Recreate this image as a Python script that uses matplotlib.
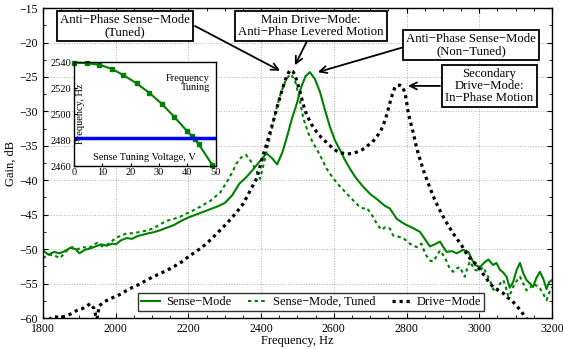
import matplotlib
matplotlib.use("Agg")
import matplotlib.pyplot as plt
from matplotlib.ticker import MultipleLocator

plt.rcParams['font.family'] = ['Liberation Serif', 'DejaVu Serif']
plt.rcParams['mathtext.fontset'] = 'stix'

GREEN = '#008000'

# ---------------- data ----------------
freq_sense = [1800, 1815, 1830, 1845, 1860, 1875, 1890, 1900, 1915, 1930, 1945, 1960, 1975, 1990,
              2000, 2015, 2030, 2045, 2060, 2075, 2090, 2100, 2120, 2140, 2160, 2180, 2200, 2220,
              2240, 2260, 2280, 2300, 2320, 2340, 2360, 2380, 2400, 2415, 2430, 2444, 2458, 2470,
              2485, 2498, 2510, 2522, 2534, 2548, 2562, 2575, 2589, 2603, 2617, 2630, 2644, 2660,
              2680, 2700, 2720, 2740, 2754, 2773, 2790, 2800, 2820, 2837, 2850, 2864, 2878, 2892,
              2900, 2910, 2925, 2938, 2956, 2970, 2980, 2988, 3002, 3015, 3025, 3038, 3047, 3057,
              3066, 3075, 3084, 3093, 3103, 3112, 3121, 3130, 3140, 3148, 3157, 3167, 3176, 3185,
              3192, 3200]
gain_sense = [-50.2, -50.8, -50.4, -50.6, -50.3, -49.8, -50.0, -50.6, -50.1, -49.9, -49.6, -49.3,
              -49.5, -49.2, -49.3, -48.7, -48.4, -48.5, -48.1, -47.9, -47.7, -47.6, -47.3, -46.9,
              -46.5, -45.9, -45.4, -45.0, -44.6, -44.2, -43.8, -43.3, -42.2, -40.5, -39.5, -38.3,
              -37.0, -36.1, -36.8, -37.7, -36.0, -33.9, -31.0, -28.9, -26.5, -24.9, -24.3, -25.3,
              -27.2, -29.7, -32.2, -34.2, -35.6, -37.0, -38.3, -39.6, -40.9, -42.0, -42.8, -43.7,
              -44.1, -45.6, -46.2, -46.5, -47.0, -47.5, -48.5, -49.6, -49.3, -48.9, -49.6, -50.4,
              -50.3, -50.6, -50.1, -50.4, -51.5, -52.3, -52.6, -51.9, -51.5, -52.3, -52.0, -53.0,
              -53.4, -54.0, -55.6, -54.8, -53.0, -52.0, -53.5, -54.5, -55.0, -55.5, -54.2, -53.3,
              -54.3, -55.8, -54.8, -54.5]

freq_tuned = [1800, 1815, 1830, 1847, 1860, 1870, 1880, 1895, 1911, 1925, 1940, 1950, 1962, 1975,
              1990, 2003, 2017, 2030, 2048, 2067, 2085, 2103, 2122, 2140, 2160, 2177, 2200, 2220,
              2240, 2260, 2287, 2305, 2319, 2333, 2345, 2358, 2370, 2385, 2397, 2410, 2425, 2440,
              2455, 2470, 2482, 2493, 2505, 2516, 2530, 2545, 2553, 2565, 2580, 2594, 2610, 2626,
              2640, 2653, 2668, 2681, 2690, 2699, 2710, 2718, 2731, 2742, 2754, 2763, 2778, 2791,
              2800, 2809, 2818, 2828, 2841, 2848, 2855, 2866, 2873, 2883, 2892, 2900, 2906, 2917,
              2928, 2938, 2947, 2955, 2960, 2967, 2974, 2982, 2988, 3000, 3011, 3020, 3029, 3038,
              3048, 3057, 3066, 3073, 3080, 3087, 3093, 3103, 3112, 3121, 3130, 3140, 3148, 3157,
              3167, 3176, 3185, 3192, 3200]
gain_tuned = [-51.3, -50.8, -50.9, -51.3, -50.5, -50.0, -49.7, -50.0, -49.7, -49.9, -49.3, -49.1,
              -49.6, -49.4, -48.8, -48.3, -48.0, -47.7, -47.7, -47.5, -47.3, -47.0, -46.4, -45.9,
              -45.6, -45.3, -44.7, -44.2, -43.6, -43.0, -41.8, -40.3, -39.0, -37.5, -36.7, -36.3,
              -37.1, -38.4, -39.8, -37.0, -33.5, -30.0, -27.2, -25.2, -24.6, -25.5, -28.0, -31.0,
              -33.2, -34.8, -35.5, -36.7, -38.3, -39.4, -40.5, -41.4, -42.2, -42.9, -43.7, -44.1,
              -44.0, -44.6, -45.5, -46.3, -47.2, -46.8, -47.0, -48.0, -48.2, -48.4, -48.8, -49.2,
              -49.5, -49.7, -49.2, -50.2, -51.0, -51.7, -51.8, -51.0, -50.2, -50.8, -51.3, -52.6,
              -53.3, -52.8, -52.6, -53.5, -54.0, -52.8, -51.8, -52.5, -53.0, -53.2, -52.6, -53.6,
              -54.5, -55.8, -56.2, -55.0, -54.5, -55.5, -56.9, -56.3, -55.5, -54.6, -54.0, -55.0,
              -56.0, -55.6, -55.0, -55.3, -55.7, -56.5, -57.4, -56.4, -55.5]

freq_drive = [1800, 1815, 1828, 1845, 1865, 1880, 1893, 1906, 1920, 1930, 1940, 1948, 1955, 1970,
              1985, 1998, 2015, 2030, 2048, 2065, 2085, 2103, 2120, 2140, 2158, 2180, 2200, 2225,
              2250, 2275, 2305, 2330, 2351, 2370, 2388, 2406, 2420, 2433, 2445, 2456, 2466, 2475,
              2480, 2487, 2493, 2500, 2507, 2516, 2525, 2540, 2553, 2567, 2580, 2598, 2612, 2635,
              2650, 2663, 2677, 2690, 2705, 2718, 2730, 2741, 2748, 2754, 2761, 2768, 2775, 2782,
              2789, 2796, 2800, 2805, 2812, 2819, 2825, 2832, 2839, 2846, 2853, 2860, 2869, 2878,
              2890, 2901, 2915, 2928, 2940, 2951, 2960, 2970, 2980, 2993, 3005, 3016, 3027, 3038,
              3050, 3066, 3077, 3089, 3100, 3112, 3126, 3140]
gain_drive = [-60.8, -60.3, -59.8, -59.9, -59.7, -59.3, -58.9, -58.7, -58.3, -57.9, -58.6, -60.2,
              -58.2, -57.6, -57.2, -56.9, -56.5, -56.0, -55.5, -55.1, -54.5, -54.0, -53.6, -53.1,
              -52.6, -51.9, -51.1, -50.2, -49.2, -47.9, -46.3, -44.8, -43.4, -41.5, -39.7, -36.3,
              -33.9, -31.5, -29.2, -27.2, -25.5, -24.4, -24.0, -24.2, -24.7, -25.9, -27.2, -29.0,
              -30.5, -32.0, -33.0, -33.9, -34.5, -35.4, -35.9, -36.2, -36.1, -35.9, -35.6, -35.1,
              -34.5, -33.7, -32.7, -31.3, -30.0, -28.8, -27.5, -26.5, -26.2, -26.2, -26.4, -27.4,
              -28.6, -30.3, -31.8, -33.2, -34.7, -36.1, -37.3, -38.5, -39.5, -40.5, -41.7, -42.9,
              -44.2, -45.3, -46.6, -47.7, -48.6, -49.4, -50.2, -51.1, -51.6, -52.3, -53.2, -54.0,
              -54.8, -55.5, -55.9, -56.4, -57.0, -57.4, -58.1, -58.8, -59.8, -60.8]

inset_voltage = [0, 4.5, 9, 13.4, 17.5, 22.2, 26.6, 31, 35.5, 40, 41.5, 42.7, 44, 48.8]
inset_freq = [2539.7, 2539.2, 2538, 2534.8, 2530, 2523.6, 2516.4, 2508, 2497.7, 2486.8,
              2483.4, 2480.5, 2477, 2461]
drive_freq_line = 2482

series_labels = ['Sense\u2212Mode', 'Sense\u2212Mode, Tuned', 'Drive\u2212Mode']

annotations = [
    # text, text position (Hz, dB), arrow start (Hz, dB), arrow tip (Hz, dB)
    ('Anti\u2212Phase Sense\u2212Mode\n(Tuned)', (2025, -17.6), (2218, -17.6), (2452, -24.1)),
    ('Main Drive\u2212Mode:\nAnti\u2212Phase Levered Motion', (2536, -17.6), (2529, -19.5), (2493, -23.3)),
    ('Anti\u2212Phase Sense\u2212Mode\n(Non\u2212Tuned)', (2978, -20.4), (2790, -20.7), (2556, -24.3)),
    ('Secondary\nDrive\u2212Mode:\nIn\u2212Phase Motion', (3028, -26.3), (2892, -26.3), (2804, -26.3)),
]

# ---------------- figure ----------------
fig = plt.figure(figsize=(5.63, 3.49), dpi=100)
ax = fig.add_axes([0.0764, 0.0888, 0.904, 0.888])

l1, = ax.plot(freq_sense, gain_sense, color=GREEN, lw=1.5, label=series_labels[0])
l2, = ax.plot(freq_tuned, gain_tuned, color=GREEN, lw=1.5, dashes=(1.6, 1.6), label=series_labels[1])
l3, = ax.plot(freq_drive, gain_drive, color='black', lw=2.3, dashes=(1.0, 1.2), label=series_labels[2])

ax.set_xlim(1800, 3200)
ax.set_ylim(-60, -15)
ax.xaxis.set_major_locator(MultipleLocator(200))
ax.xaxis.set_minor_locator(MultipleLocator(50))
ax.yaxis.set_major_locator(MultipleLocator(5))
ax.yaxis.set_minor_locator(MultipleLocator(2.5))
ax.tick_params(which='both', direction='in', top=True, right=True, labelsize=8.5)
ax.tick_params(which='major', length=3.5)
ax.tick_params(which='minor', length=2)
ax.grid(True, which='major', linestyle=':', color='#b0b0b0', lw=0.7)
for s in ax.spines.values():
    s.set_linewidth(1.0)
ax.set_xlabel('Frequency, Hz', fontsize=9, labelpad=0)
ax.set_ylabel('Gain, dB', fontsize=9, labelpad=2)

leg = ax.legend(handles=[l1, l2, l3], loc='lower center', bbox_to_anchor=(0.527, 0.022),
                ncol=3, fontsize=9, frameon=True, fancybox=False, edgecolor='black',
                handlelength=1.5, columnspacing=1.3, borderpad=0.25, handletextpad=0.5,
                borderaxespad=0)
leg.get_frame().set_linewidth(1.0)

for text, tpos, astart, atip in annotations:
    ax.annotate('', xy=atip, xytext=astart,
                arrowprops=dict(arrowstyle='->,head_length=0.5,head_width=0.25',
                                color='black', lw=1.3, shrinkA=0, shrinkB=0))
    ax.text(tpos[0], tpos[1], text, ha='center', va='center', fontsize=9.2,
            linespacing=1.0, zorder=5,
            bbox=dict(boxstyle='square,pad=0.25', fc='white', ec='black', lw=1.3))

# ---------------- inset ----------------
axi = fig.add_axes([0.131, 0.524, 0.252, 0.298])
axi.plot(inset_voltage, inset_freq, color=GREEN, lw=1.5, marker='s', ms=3.5, clip_on=False)
axi.axhline(drive_freq_line, color='#0000ff', lw=2.5)
axi.set_xlim(0, 50)
axi.set_ylim(2460, 2540)
axi.xaxis.set_major_locator(MultipleLocator(10))
axi.yaxis.set_major_locator(MultipleLocator(20))
axi.tick_params(direction='in', labelsize=7.5, length=2.5, pad=1.5)
for s in axi.spines.values():
    s.set_linewidth(1.0)
axi.text(0.05, 0.5, 'Frequency, Hz', transform=axi.transAxes, rotation=90,
         ha='center', va='center', fontsize=7.5)
axi.text(0.5, 0.08, 'Sense Tuning Voltage, V', transform=axi.transAxes,
         ha='center', va='center', fontsize=7.5)
axi.text(0.96, 0.8, 'Frequency\nTuning', transform=axi.transAxes,
         ha='right', va='center', fontsize=7.5, linespacing=1.1)

fig.savefig('out.png', dpi=100)
